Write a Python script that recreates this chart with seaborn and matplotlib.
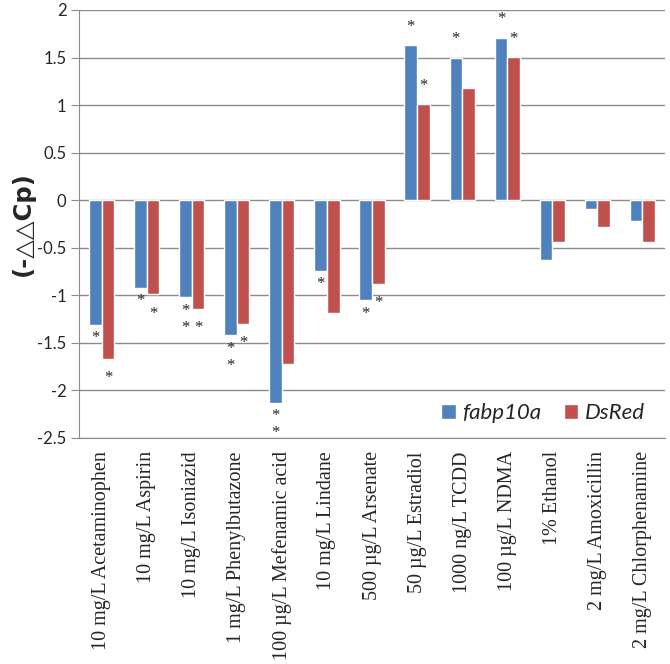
import pandas as pd
import matplotlib.pyplot as plt
import seaborn as sns

# values
treatments = [
    "10 mg/L Acetaminophen", "10 mg/L Aspirin", "10 mg/L Isoniazid",
    "1 mg/L Phenylbutazone", "100 µg/L Mefenamic acid", "10 mg/L Lindane",
    "500 µg/L Arsenate", "50 µg/L Estradiol", "1000 ng/L TCDD",
    "100 µg/L NDMA", "1% Ethanol", "2 mg/L Amoxicillin",
    "2 mg/L Chlorphenamine",
]
fabp10a = [-1.31, -0.92, -1.02, -1.42, -2.13, -0.74, -1.05,
           1.63, 1.50, 1.71, -0.63, -0.09, -0.22]
dsred = [-1.67, -0.99, -1.14, -1.30, -1.72, -1.19, -0.88,
         1.01, 1.18, 1.51, -0.44, -0.28, -0.44]
# number of significance asterisks per bar
stars_fabp10a = [1, 1, 2, 2, 2, 1, 1, 1, 1, 1, 0, 0, 0]
stars_dsred = [1, 1, 1, 1, 0, 0, 1, 1, 0, 1, 0, 0, 0]

genes = ["fabp10a", "DsRed"]
palette = {"fabp10a": "#4F81BD", "DsRed": "#C0504D"}

df = pd.DataFrame({
    "treatment": treatments * 2,
    "gene": ["fabp10a"] * len(treatments) + ["DsRed"] * len(treatments),
    "value": fabp10a + dsred,
})

sns.set_style("white")
plt.rcParams["font.family"] = ["Lato", "DejaVu Sans"]

fig = plt.figure(figsize=(6.7, 6.64), dpi=100)
ax = fig.add_axes([0.118, 0.3404, 0.8745, 0.6446])

sns.barplot(data=df, x="treatment", y="value", hue="gene", order=treatments,
            hue_order=genes, palette=palette, width=0.56, gap=0,
            saturation=1, errorbar=None, ax=ax)

ax.set_ylim(-2.5, 2)
ax.set_yticks([2, 1.5, 1, 0.5, 0, -0.5, -1, -1.5, -2, -2.5])
ax.set_yticklabels(["2", "1.5", "1", "0.5", "0", "-0.5", "-1", "-1.5", "-2", "-2.5"],
                   fontsize=12)
ax.set_xlim(-0.5, len(treatments) - 0.5)
ax.yaxis.grid(True, color="#8c8c8c", linewidth=1)
ax.set_axisbelow(True)
for side in ["top", "right"]:
    ax.spines[side].set_visible(False)
ax.spines["left"].set_color("#8c8c8c")
ax.spines["bottom"].set_color("#8c8c8c")
ax.tick_params(axis="y", left=True, length=6, color="#8c8c8c", pad=3)
ax.tick_params(axis="x", bottom=False, pad=6)

ax.set_xticks(range(len(treatments)))
ax.set_xticklabels(treatments, rotation=90, fontsize=14.5,
                   family="Liberation Serif")
ax.set_xlabel("")
ax.set_ylabel("(-△△Cp)", fontsize=17.5, fontweight="bold",
              family=["DejaVu Sans"], labelpad=2)

# asterisks, centred on each bar
for bars, vals, stars, first in [(ax.containers[0], fabp10a, stars_fabp10a, 9.7),
                                 (ax.containers[1], dsred, stars_dsred, 14)]:
    for bar, v, n in zip(bars, vals, stars):
        xc = bar.get_x() + bar.get_width() / 2
        for k in range(n):
            if v > 0:
                dy = 13 + 12 * k
            else:
                dy = -(first + 12.3 * k)
            ax.annotate("*", (xc, v), xytext=(0, dy), textcoords="offset points",
                        ha="center", va="center", fontsize=12,
                        family="Liberation Serif")

leg = ax.legend(loc="lower right", bbox_to_anchor=(1.0, -0.012), ncol=2,
                frameon=False, handlelength=0.65, handleheight=0.65,
                handletextpad=0.3, columnspacing=1.0,
                prop={"style": "italic", "size": 16})

fig.savefig("out.png", dpi=100)
